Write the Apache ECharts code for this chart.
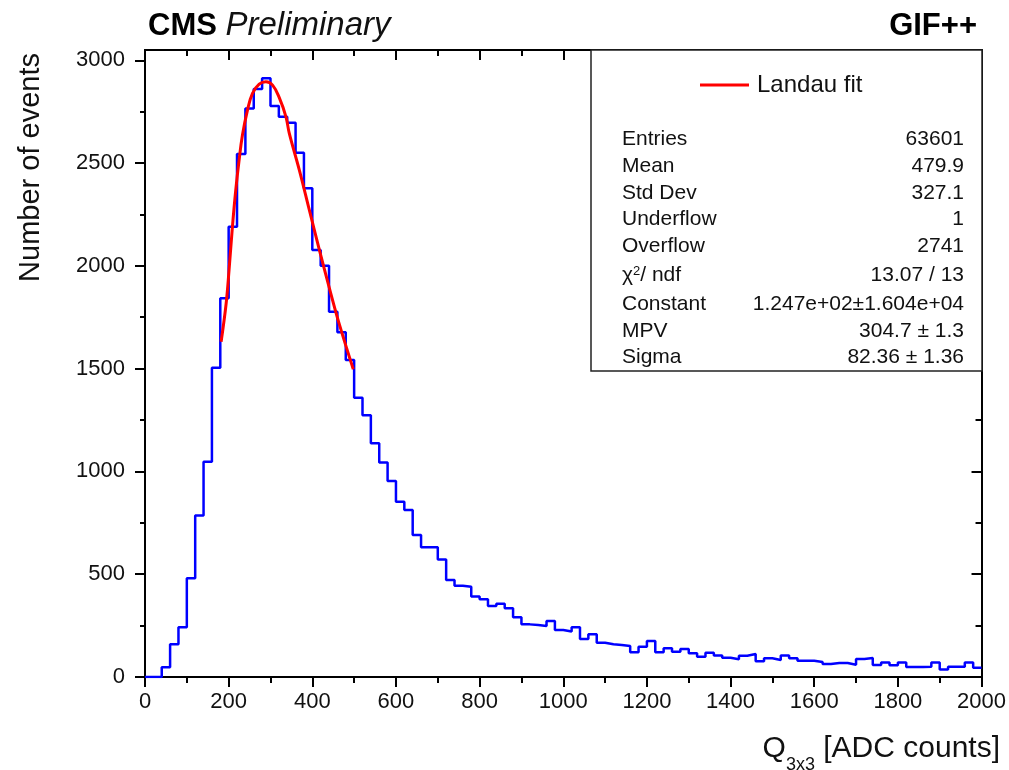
<!DOCTYPE html>
<html>
<head>
<meta charset="utf-8">
<script src="https://cdn.jsdelivr.net/npm/echarts@6/dist/echarts.min.js"></script>
<style>
  html, body { margin: 0; padding: 0; background: #fff; }
  #chart { width: 1009px; height: 770px; }
</style>
</head>
<body>
<div id="chart"></div>
<script>
// Histogram binning (ADC counts)
const binStart = 0;
const binWidth = 20;
const xMax = 2000;

// Events per 20-count bin, 0 .. 2000
const counts = [
  0, 0, 47, 159, 242, 480, 785, 1047, 1504, 1842,
  2190, 2544, 2766, 2860, 2912, 2777, 2725, 2696, 2550, 2377,
  2077, 2001, 1777, 1677, 1542, 1358, 1273, 1137, 1044, 953,
  853, 812, 691, 631, 631, 572, 472, 444, 439, 391,
  378, 345, 356, 335, 291, 256, 253, 248, 273, 229,
  221, 242, 185, 208, 167, 159, 156, 151, 120, 147,
  175, 120, 140, 123, 136, 115, 99, 118, 105, 94,
  86, 103, 112, 77, 91, 83, 104, 91, 79, 79,
  73, 63, 68, 68, 60, 88, 92, 58, 70, 57,
  70, 49, 49, 50, 71, 37, 50, 50, 70, 45
];

// Landau fit curve over the peak region
const fitX = [182, 194, 201, 209, 217, 225, 233, 245, 257, 273, 289, 305, 321, 337, 345, 369, 393, 417, 440, 464, 498];
const fitY = [1631, 1817, 1980, 2190, 2369, 2515, 2636, 2758, 2839, 2884, 2895, 2879, 2818, 2725, 2644, 2466, 2271, 2077, 1898, 1720, 1497];

// Y axis ticks
const yMajor = [0, 500, 1000, 1500, 2000, 2500, 3000];
const yMinor = [250, 750, 1250, 1750, 2250, 2750];
const yMax = 3050;

// Statistics box
const statNames = ['Entries', 'Mean', 'Std Dev', 'Underflow', 'Overflow', 'χ{sup|2}/ ndf', 'Constant', 'MPV', 'Sigma'];
const statValues = ['63601', '479.9', '327.1', '1', '2741', '13.07 / 13', '1.247e+02±1.604e+04', '304.7 ± 1.3', '82.36 ± 1.36'];
const statRowsY = [139, 166, 193, 219, 246, 275, 304, 331, 357];

const FONT = "'Liberation Sans', Arial, Helvetica, sans-serif";

// Step outline: each bin value held from its low edge to the next edge
const histPoints = counts.map((c, i) => [binStart + i * binWidth, c]);
histPoints.push([xMax, counts[counts.length - 1]]);

const fitPoints = fitX.map((x, i) => [x, fitY[i]]);

const chart = echarts.init(document.getElementById('chart'));

const frameLine = { show: true, onZero: false, lineStyle: { color: '#000', width: 2 } };
const plainNumber = v => String(v);

function xAxisDef(position, inside) {
  return {
    type: 'value', position: position, min: 0, max: xMax, interval: 200,
    axisLine: frameLine,
    axisTick: { show: true, inside: inside, length: 10, lineStyle: { color: '#000', width: 2 } },
    minorTick: { show: true, splitNumber: 2, length: 6, lineStyle: { color: '#000', width: 2 } },
    axisLabel: position === 'bottom'
      ? { show: true, margin: 14, fontFamily: FONT, fontSize: 22, color: '#111', formatter: plainNumber }
      : { show: false },
    splitLine: { show: false }
  };
}

function yAxisDef(position, inside, ticks, len, labels) {
  return {
    type: 'value', position: position, min: 0, max: yMax,
    axisLine: frameLine,
    axisTick: { show: true, inside: inside, length: len, customValues: ticks,
                lineStyle: { color: '#000', width: 2 } },
    axisLabel: labels
      ? { show: true, customValues: ticks, margin: 20, fontFamily: FONT, fontSize: 22, color: '#111', formatter: plainNumber }
      : { show: false },
    splitLine: { show: false }
  };
}

const option = {
  animation: false,
  backgroundColor: '#fff',
  grid: { left: 145, right: 27, top: 50, bottom: 93, containLabel: false },
  xAxis: [xAxisDef('bottom', false), xAxisDef('top', true)],
  yAxis: [
    yAxisDef('left', false, yMajor, 10, true),
    yAxisDef('left', false, yMinor, 5, false),
    yAxisDef('right', true, yMajor, 10, false),
    yAxisDef('right', true, yMinor, 6, false)
  ],
  legend: {
    left: 695, top: 68,
    itemWidth: 49, itemHeight: 3, itemGap: 8,
    textStyle: { fontFamily: FONT, fontSize: 24, color: '#111', padding: [0, 0, 0, 3] },
    data: [{ name: 'Landau fit', icon: 'rect', itemStyle: { color: '#ff0000' } }],
    z: 20
  },
  series: [
    {
      name: 'hist', type: 'line', step: 'end', data: histPoints,
      xAxisIndex: 0, yAxisIndex: 0,
      symbol: 'none', lineStyle: { color: '#0000ff', width: 2.5 }, z: 3
    },
    {
      name: 'Landau fit', type: 'line', data: fitPoints, smooth: 0.4,
      xAxisIndex: 0, yAxisIndex: 0,
      symbol: 'none', lineStyle: { color: '#ff0000', width: 3 }, itemStyle: { color: '#ff0000' }, z: 4
    }
  ],
  graphic: []
};

const g = option.graphic;

// statistics box
g.push({ type: 'rect', z: 10, shape: { x: 591, y: 50, width: 391, height: 321 },
         style: { fill: '#fff', stroke: '#222', lineWidth: 1.5 } });

statNames.forEach((name, i) => {
  g.push({ type: 'text', z: 11, style: {
    x: 622, y: statRowsY[i], text: name, align: 'left', verticalAlign: 'middle',
    font: '21px ' + FONT, fill: '#111',
    rich: { sup: { fontSize: 13, fontFamily: FONT, fill: '#111', verticalAlign: 'top', lineHeight: 14 } }
  }});
  g.push({ type: 'text', z: 11, style: {
    x: 964, y: statRowsY[i], text: statValues[i], align: 'right', verticalAlign: 'middle',
    font: '21px ' + FONT, fill: '#111'
  }});
});

// headers
g.push({ type: 'text', z: 11, style: {
  x: 148, y: 26, verticalAlign: 'middle', align: 'left',
  text: '{b|CMS }{i|Preliminary}',
  rich: {
    b: { fontFamily: FONT, fontSize: 31, fontWeight: 'bold', fill: '#000' },
    i: { fontFamily: FONT, fontSize: 33, fontStyle: 'italic', fill: '#111' }
  }
}});
g.push({ type: 'text', z: 11, style: {
  x: 977, y: 26, align: 'right', verticalAlign: 'middle',
  text: 'GIF++', font: 'bold 31px ' + FONT, fill: '#000'
}});

// axis titles
g.push({ type: 'text', z: 11, x: 31, y: 53, rotation: Math.PI / 2, style: {
  x: 0, y: 0, align: 'right', verticalAlign: 'middle',
  text: 'Number of events', font: '29px ' + FONT, fill: '#111'
}});
g.push({ type: 'text', z: 11, style: {
  x: 1000, y: 724, align: 'right', verticalAlign: 'top',
  text: '{m|Q}{s|3x3}{m| [ADC counts]}',
  rich: {
    m: { fontFamily: FONT, fontSize: 30, fill: '#111', lineHeight: 50, verticalAlign: 'middle' },
    s: { fontFamily: FONT, fontSize: 18, fill: '#111', lineHeight: 18, verticalAlign: 'bottom' }
  }
}});

chart.setOption(option);
</script>
</body>
</html>
